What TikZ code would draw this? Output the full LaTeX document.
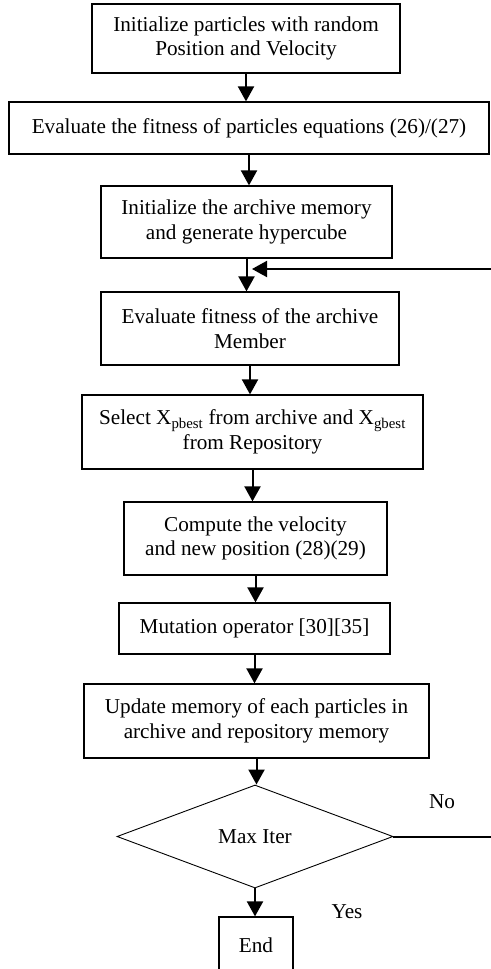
\documentclass[tikz,border=0pt]{standalone}
\usepackage{fontspec}
\setmainfont{Liberation Serif}
\usetikzlibrary{arrows.meta,shapes.geometric}
\begin{document}
\begin{tikzpicture}[x=1pt,y=-1pt,
  every node/.style={font=\fontsize{21.2}{24.5}\selectfont},
  stepbox/.style={draw, line width=1.2pt, align=center, inner sep=0pt},
  decision/.style={draw, line width=0.9pt, diamond, inner sep=0pt, align=center},
  arr/.style={line width=2pt, -{Triangle[length=15pt,width=16pt]}},
  loopline/.style={line width=2pt}]
\useasboundingbox (0,0) rectangle (490,969);

% process boxes
\node[stepbox, minimum width=308pt, minimum height=69pt] (b1) at (246,38.5)
  {Initialize particles with random\\Position and Velocity};
\node[stepbox, minimum width=480pt, minimum height=52pt] (b2) at (249,128)
  {Evaluate the fitness of particles equations (26)/(27)};
\node[stepbox, minimum width=291pt, minimum height=72pt] (b3) at (246.5,222)
  {Initialize the archive memory\\and generate hypercube};
\node[stepbox, minimum width=298pt, minimum height=73pt] (b4) at (250,328.5)
  {Evaluate fitness of the archive\\Member};
\node[stepbox, minimum width=341pt, minimum height=74pt] (b5) at (252.5,432)
  {Select X\textsubscript{pbest} from archive and X\textsubscript{gbest}\\from Repository};
\node[stepbox, minimum width=263pt, minimum height=73pt] (b6) at (255.5,538.5)
  {Compute the velocity\\and new position (28)(29)};
\node[stepbox, minimum width=271pt, minimum height=51pt] (b7) at (254.5,628.5)
  {Mutation operator [30][35]};
\node[stepbox, minimum width=345pt, minimum height=74pt] (b8) at (256.5,721)
  {Update memory of each particles in\\archive and repository memory};
\node[decision, minimum width=276pt, minimum height=103pt] (d) at (255,836.5)
  {Max Iter};
\node[stepbox, minimum width=74pt, minimum height=56pt] (e) at (256,945)
  {End};

% branch labels
\node (no) at (442,802) {No};
\node (yes) at (347,912) {Yes};

% main flow
\draw[arr] (b1) -- (b1 |- b2.north);
\draw[arr] (b2) -- (b2 |- b3.north);
\draw[arr] (b3) -- (b3 |- b4.north);
\draw[arr] (b4) -- (b4 |- b5.north);
\draw[arr] (b5) -- (b5 |- b6.north);
\draw[arr] (b6) -- (b6 |- b7.north);
\draw[arr] (b7) -- (b7 |- b8.north);
\draw[arr] (b8) -- (b8 |- d.north);
\draw[arr] (d) -- (d |- e.north);

% loop back on "No"
\coordinate (rt) at (496,837);
\coordinate (lt) at (496,269);
\coordinate (tip) at (252,269);
\draw[loopline] (d.east) -- (d.east -| rt) -- (lt);
\draw[arr] (lt) -- (tip);
\end{tikzpicture}
\end{document}
